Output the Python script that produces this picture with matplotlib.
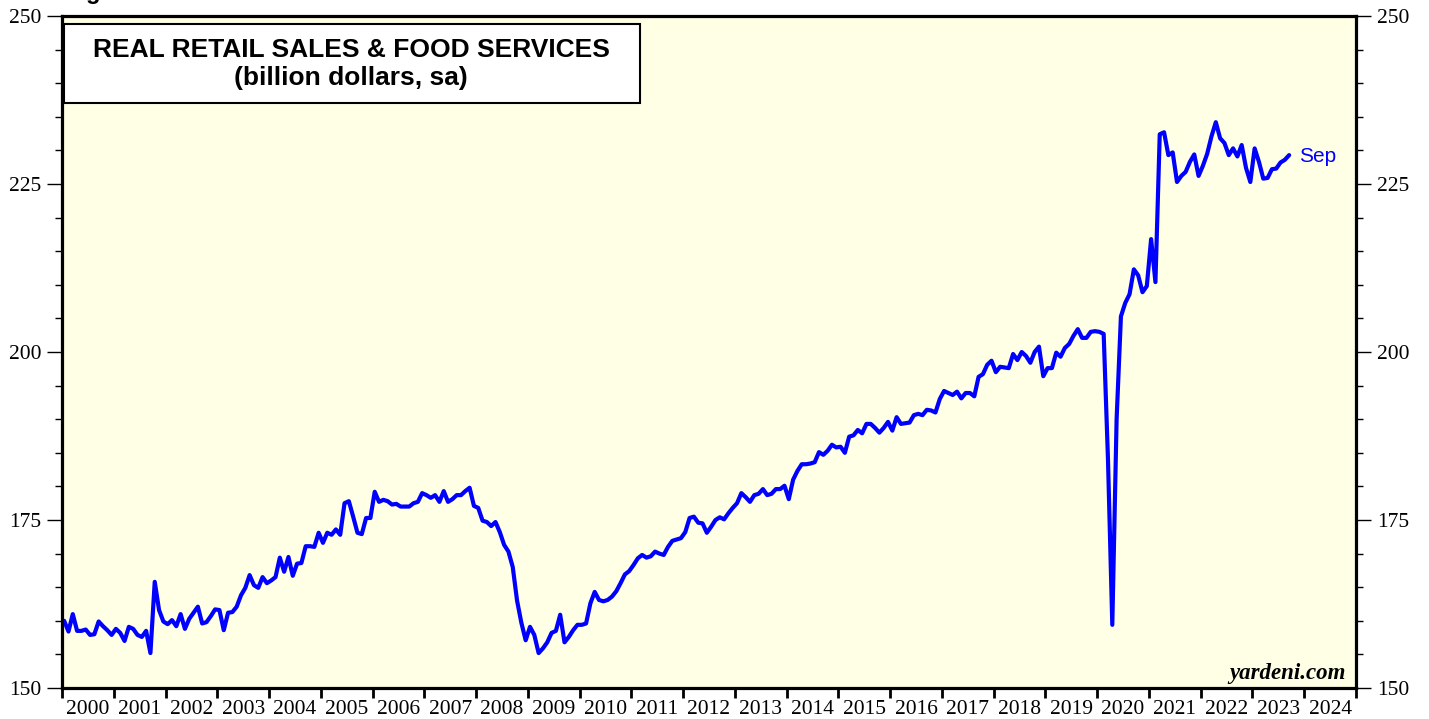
import numpy as np
import matplotlib
matplotlib.use("Agg")
import matplotlib.pyplot as plt
from matplotlib.patches import Rectangle
from matplotlib.ticker import MultipleLocator, FixedLocator, NullFormatter

# monthly real retail sales & food services, billion dollars (sa), Jan 2000 .. Sep 2023
sales_2000 = [160.0, 158.4, 161.0, 158.5, 158.5, 158.7, 157.9, 158.0, 159.9, 159.2, 158.6, 157.9]
sales_2001 = [158.8, 158.2, 157.0, 159.1, 158.8, 157.9, 157.6, 158.5, 155.2, 165.8, 161.6, 159.9]
sales_2002 = [159.5, 160.1, 159.2, 161.0, 158.8, 160.3, 161.2, 162.1, 159.6, 159.8, 160.7, 161.7]
sales_2003 = [161.6, 158.6, 161.2, 161.3, 162.1, 163.8, 164.9, 166.8, 165.3, 164.9, 166.5, 165.6]
sales_2004 = [166.0, 166.5, 169.4, 167.3, 169.5, 166.7, 168.5, 168.6, 171.1, 171.1, 171.0, 173.1]
sales_2005 = [171.6, 173.1, 172.8, 173.6, 172.8, 177.5, 177.8, 175.5, 173.1, 172.9, 175.3, 175.3]
sales_2006 = [179.2, 177.7, 178.0, 177.8, 177.3, 177.4, 177.0, 177.0, 177.0, 177.5, 177.7, 179.0]
sales_2007 = [178.7, 178.3, 178.7, 177.7, 179.3, 177.7, 178.1, 178.7, 178.7, 179.3, 179.8, 177.1]
sales_2008 = [176.8, 174.9, 174.7, 174.1, 174.7, 173.2, 171.3, 170.3, 168.0, 163.0, 159.7, 157.1]
sales_2009 = [159.1, 157.9, 155.2, 155.9, 156.8, 158.2, 158.5, 160.9, 156.8, 157.6, 158.6, 159.4]
sales_2010 = [159.4, 159.6, 162.6, 164.3, 163.1, 162.9, 163.1, 163.6, 164.4, 165.6, 166.9, 167.4]
sales_2011 = [168.3, 169.3, 169.8, 169.4, 169.6, 170.3, 170.0, 169.8, 171.0, 171.9, 172.1, 172.3]
sales_2012 = [173.2, 175.3, 175.5, 174.6, 174.5, 173.1, 174.0, 175.0, 175.4, 175.1, 176.0, 176.8]
sales_2013 = [177.5, 179.0, 178.4, 177.7, 178.7, 178.9, 179.6, 178.7, 178.9, 179.6, 179.6, 180.1]
sales_2014 = [178.1, 181.0, 182.3, 183.3, 183.3, 183.4, 183.6, 185.1, 184.7, 185.3, 186.2, 185.8]
sales_2015 = [185.9, 185.0, 187.4, 187.6, 188.4, 187.9, 189.3, 189.3, 188.7, 188.0, 188.7, 189.6]
sales_2016 = [188.3, 190.3, 189.3, 189.4, 189.5, 190.6, 190.8, 190.6, 191.4, 191.3, 191.0, 193.0]
sales_2017 = [194.2, 193.9, 193.6, 194.1, 193.1, 193.9, 193.9, 193.4, 196.3, 196.7, 198.1, 198.7]
sales_2018 = [197.0, 197.8, 197.7, 197.6, 199.7, 198.8, 200.0, 199.4, 198.4, 200.0, 200.8, 196.4]
sales_2019 = [197.6, 197.6, 199.9, 199.3, 200.6, 201.2, 202.4, 203.4, 202.1, 202.1, 203.0, 203.1]
sales_2020 = [203.0, 202.7, 184.0, 159.4, 190.0, 205.3, 207.3, 208.6, 212.3, 211.4, 208.9, 209.8]
sales_2021 = [216.8, 210.4, 232.4, 232.7, 229.3, 229.7, 225.3, 226.2, 226.8, 228.3, 229.4, 226.2]
sales_2022 = [227.7, 229.5, 232.1, 234.2, 231.8, 231.1, 229.3, 230.3, 229.1, 230.8, 227.4, 225.3]
sales_2023 = [230.3, 228.3, 225.8, 225.9, 227.2, 227.3, 228.2, 228.6, 229.3]

years = list(range(2000, 2025))
last_label = "Sep"

sales = np.array(sales_2000 + sales_2001 + sales_2002 + sales_2003 + sales_2004 +
                 sales_2005 + sales_2006 + sales_2007 + sales_2008 + sales_2009 +
                 sales_2010 + sales_2011 + sales_2012 + sales_2013 + sales_2014 +
                 sales_2015 + sales_2016 + sales_2017 + sales_2018 + sales_2019 +
                 sales_2020 + sales_2021 + sales_2022 + sales_2023)
# mid-month positions in fractional years
t = 2000 + (np.arange(len(sales)) + 0.5) / 12.0

serif = ["Liberation Serif", "DejaVu Serif"]
sans = ["Liberation Sans", "DejaVu Sans"]

fig = plt.figure(figsize=(14.29, 7.19), dpi=100)
ax = fig.add_axes([62 / 1429, 31 / 719, 1294 / 1429, 672 / 719])
ax.set_facecolor("#FFFFE6")

ax.plot(t, sales, color="#0000FF", lw=3.0, solid_joinstyle="round", solid_capstyle="round")
ax.annotate(last_label, (t[-1], sales[-1]), xytext=(7, -1), textcoords="offset points",
            color="#0000FF", fontsize=15, family=sans, va="center", ha="left")

ax.set_xlim(2000, 2025)
ax.set_ylim(150, 250)

for s in ax.spines.values():
    s.set_linewidth(2.3)

# y axis on both sides
ax.yaxis.set_major_locator(MultipleLocator(25))
ax.yaxis.set_minor_locator(MultipleLocator(5))
ax.tick_params(axis="y", which="major", direction="out", length=11, width=1.0,
               left=True, right=True, labelleft=True, labelright=True, pad=4)
ax.tick_params(axis="y", which="minor", direction="out", length=5, width=1.0,
               left=True, right=True)
for lab in ax.get_yticklabels():
    lab.set_fontfamily(serif)
    lab.set_fontsize(15.5)

# x axis: ticks at year boundaries, labels centred in each year
ax.xaxis.set_major_locator(FixedLocator(range(2000, 2026)))
ax.xaxis.set_major_formatter(NullFormatter())
ax.xaxis.set_minor_locator(FixedLocator([y + 0.5 for y in years]))
ax.set_xticklabels([str(y) for y in years], minor=True)
ax.tick_params(axis="x", which="major", direction="out", length=7, width=2.0)
ax.tick_params(axis="x", which="minor", length=0, pad=9)
for lab in ax.get_xticklabels(minor=True):
    lab.set_fontfamily(serif)
    lab.set_fontsize(15.5)

# title box
ax.add_patch(Rectangle((0.0015, 0.8705), 0.4455, 0.1175, transform=ax.transAxes,
                       facecolor="white", edgecolor="black", lw=1.5, zorder=5))
ax.text(0.2235, 0.950, "REAL RETAIL SALES & FOOD SERVICES", transform=ax.transAxes,
        ha="center", va="center", fontsize=19, fontweight="bold", family=sans, zorder=6)
ax.text(0.2235, 0.907, "(billion dollars, sa)", transform=ax.transAxes,
        ha="center", va="center", fontsize=19, fontweight="bold", family=sans, zorder=6)

ax.text(0.992, 0.014, "yardeni.com", transform=ax.transAxes, ha="right", va="baseline",
        fontsize=16.5, fontweight="bold", fontstyle="italic", family=serif)

fig.text(65 / 1429, 1.0015, "Figure 1.", ha="left", va="baseline",
         fontsize=17, fontweight="bold", family=sans)

fig.savefig("out.png", dpi=100)
